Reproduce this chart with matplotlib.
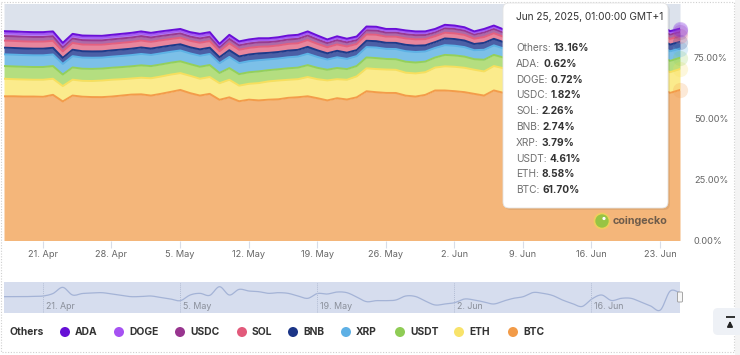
import matplotlib
matplotlib.use("Agg")
import matplotlib.pyplot as plt
import matplotlib.dates as mdates
import matplotlib.transforms as mtransforms
from matplotlib.patches import FancyBboxPatch, Circle, Rectangle
import numpy as np
import pandas as pd

plt.rcParams['font.family'] = ['Inter', 'DejaVu Sans']

# daily snapshots, 01:00 GMT+1
dates = pd.date_range('2025-04-17 01:00', periods=70, freq='D')

btc = [59.1, 59.1, 59.0, 59.0, 58.9, 59.7, 57.0, 59.4, 59.0, 58.9,
       58.7, 59.0, 59.4, 59.8, 59.9, 59.4, 60.1, 60.9, 61.7, 60.4,
       59.4, 60.1, 57.7, 58.7, 57.1, 57.7, 57.4, 57.7, 57.9, 58.5,
       58.7, 59.1, 58.3, 57.4, 58.3, 57.8, 58.7, 61.2, 60.8, 60.5,
       60.5, 59.4, 59.0, 59.7, 61.5, 61.5, 61.2, 60.8, 60.1, 59.4,
       61.5, 60.5, 60.8, 60.5, 60.0, 60.3, 60.8, 61.2, 61.4, 61.6,
       61.0, 60.7, 61.2, 61.3, 61.4, 61.7, 62.0, 62.3, 60.5, 61.70]
eth = [7.2, 7.0, 7.0, 6.9, 7.0, 6.6, 6.3, 6.5, 6.5, 6.6,
       6.8, 6.9, 6.7, 6.6, 6.8, 7.1, 7.1, 7.1, 6.9, 7.1,
       6.9, 6.9, 6.8, 7.2, 6.4, 6.5, 7.1, 7.5, 7.7, 7.4,
       7.4, 7.9, 7.8, 8.2, 7.8, 8.1, 8.6, 9.4, 9.5, 9.6,
       9.5, 9.4, 9.5, 9.3, 9.4, 9.9, 10.0, 10.0, 9.9, 9.9,
       10.0, 10.1, 10.2, 10.4, 10.5, 10.3, 10.0, 9.8, 9.6, 9.5,
       9.4, 9.5, 9.3, 9.2, 9.0, 8.8, 8.6, 8.4, 8.5, 8.58]
usdt = [5.21, 5.23, 5.21, 5.21, 5.21, 5.18, 4.73, 5.02, 4.97, 4.97,
        4.89, 4.91, 4.97, 4.99, 5.07, 4.97, 4.94, 4.86, 4.83, 4.78,
        4.91, 4.91, 4.19, 4.78, 4.71, 4.73, 4.78, 4.60, 4.60, 4.71,
        4.73, 4.86, 4.65, 4.37, 4.58, 4.37, 4.24, 4.45, 4.50, 4.32,
        4.34, 4.50, 4.47, 4.34, 4.11, 4.68, 4.65, 4.57, 4.32, 4.79,
        4.57, 4.37, 4.35, 4.32, 4.24, 4.24, 4.29, 4.40, 4.51, 4.59,
        4.51, 4.40, 4.51, 4.46, 4.48, 4.59, 4.70, 4.76, 4.62, 4.61]
xrp = [4.80, 4.82, 4.80, 4.80, 4.80, 4.77, 4.35, 4.62, 4.58, 4.58,
       4.50, 4.53, 4.58, 4.60, 4.67, 4.58, 4.55, 4.48, 4.45, 4.40,
       4.53, 4.53, 4.03, 4.60, 4.53, 4.55, 4.60, 4.43, 4.43, 4.53,
       4.55, 4.68, 4.48, 4.20, 4.40, 4.20, 4.08, 4.28, 4.33, 4.15,
       4.18, 4.33, 4.30, 4.18, 3.95, 4.00, 3.97, 3.90, 3.69, 4.09,
       3.90, 3.74, 3.71, 3.69, 3.62, 3.62, 3.67, 3.76, 3.85, 3.92,
       3.85, 3.76, 3.85, 3.81, 3.83, 3.92, 4.02, 4.07, 3.95, 3.79]
bnb = [2.73, 2.74, 2.73, 2.73, 2.73, 2.72, 2.48, 2.63, 2.60, 2.60,
       2.56, 2.58, 2.60, 2.62, 2.66, 2.60, 2.59, 2.55, 2.53, 2.51,
       2.58, 2.58, 2.42, 2.76, 2.72, 2.73, 2.76, 2.66, 2.66, 2.72,
       2.73, 2.81, 2.69, 2.52, 2.64, 2.52, 2.45, 2.57, 2.60, 2.49,
       2.51, 2.60, 2.58, 2.51, 2.37, 2.75, 2.74, 2.69, 2.54, 2.82,
       2.69, 2.58, 2.56, 2.54, 2.49, 2.49, 2.53, 2.59, 2.66, 2.71,
       2.66, 2.59, 2.66, 2.62, 2.64, 2.71, 2.77, 2.80, 2.72, 2.74]
sol = [2.89, 2.90, 2.89, 2.89, 2.89, 2.87, 2.62, 2.78, 2.75, 2.75,
       2.71, 2.72, 2.75, 2.77, 2.81, 2.75, 2.74, 2.69, 2.68, 2.65,
       2.72, 2.72, 2.45, 2.80, 2.74, 2.70, 2.72, 2.62, 2.68, 2.75,
       2.70, 2.78, 2.66, 2.50, 2.61, 2.55, 2.47, 2.60, 2.63, 2.52,
       2.55, 2.62, 2.60, 2.54, 2.40, 2.35, 2.33, 2.29, 2.17, 2.40,
       2.29, 2.19, 2.18, 2.17, 2.13, 2.13, 2.15, 2.21, 2.26, 2.30,
       2.26, 2.21, 2.26, 2.24, 2.25, 2.30, 2.36, 2.39, 2.32, 2.26]
usdc = [1.89, 1.90, 1.89, 1.89, 1.89, 1.88, 1.72, 1.82, 1.80, 1.80,
        1.78, 1.78, 1.80, 1.81, 1.84, 1.80, 1.79, 1.77, 1.76, 1.74,
        1.78, 1.78, 1.61, 1.84, 1.81, 1.82, 1.84, 1.77, 1.77, 1.81,
        1.82, 1.87, 1.79, 1.68, 1.76, 1.68, 1.63, 1.71, 1.73, 1.66,
        1.67, 1.73, 1.72, 1.67, 1.58, 1.84, 1.83, 1.79, 1.70, 1.88,
        1.79, 1.72, 1.71, 1.70, 1.66, 1.66, 1.68, 1.73, 1.77, 1.80,
        1.77, 1.73, 1.77, 1.75, 1.76, 1.80, 1.85, 1.87, 1.81, 1.82]
doge = [1.09, 1.10, 1.09, 1.09, 1.09, 1.09, 0.99, 1.05, 1.04, 1.04,
        1.02, 1.03, 1.04, 1.05, 1.06, 1.04, 1.04, 1.02, 1.01, 1.00,
        1.03, 1.03, 0.81, 0.92, 0.91, 0.91, 0.92, 0.89, 0.89, 0.91,
        0.91, 0.94, 0.90, 0.84, 0.88, 0.84, 0.82, 0.86, 0.87, 0.83,
        0.84, 0.87, 0.86, 0.84, 0.79, 0.75, 0.74, 0.73, 0.69, 0.77,
        0.73, 0.70, 0.70, 0.69, 0.68, 0.68, 0.69, 0.70, 0.72, 0.73,
        0.72, 0.70, 0.72, 0.71, 0.72, 0.73, 0.75, 0.76, 0.74, 0.72]
ada = [0.90, 0.90, 0.90, 0.90, 0.90, 0.89, 0.81, 0.86, 0.86, 0.86,
       0.84, 0.85, 0.86, 0.86, 0.87, 0.86, 0.85, 0.84, 0.83, 0.82,
       0.85, 0.85, 0.64, 0.74, 0.72, 0.73, 0.74, 0.71, 0.71, 0.72,
       0.73, 0.75, 0.72, 0.67, 0.70, 0.67, 0.65, 0.68, 0.69, 0.66,
       0.67, 0.69, 0.69, 0.67, 0.63, 0.65, 0.64, 0.63, 0.60, 0.66,
       0.63, 0.60, 0.60, 0.60, 0.59, 0.59, 0.59, 0.61, 0.62, 0.63,
       0.62, 0.61, 0.62, 0.62, 0.62, 0.63, 0.65, 0.66, 0.64, 0.62]
others = [14.2, 14.3, 14.5, 14.6, 14.6, 14.3, 19.0, 15.3, 16.0, 16.1,
          16.1, 15.7, 15.3, 14.9, 14.3, 14.9, 14.3, 13.8, 13.3, 14.6,
          15.3, 14.6, 19.4, 15.7, 18.4, 17.6, 17.1, 17.1, 16.7, 16.0,
          15.7, 14.3, 16.0, 17.6, 16.3, 17.3, 16.4, 12.3, 12.4, 13.3,
          13.3, 13.9, 14.3, 14.3, 13.3, 11.6, 11.9, 12.6, 14.3, 13.3,
          11.9, 13.5, 13.2, 13.4, 14.1, 14.0, 13.6, 13.0, 12.6, 12.2,
          13.2, 13.8, 13.1, 13.3, 13.3, 12.8, 12.3, 12.0, 14.2, 13.16]

# navigator series (Others market cap, $bn)
nav_others = [480, 480, 480, 482, 484, 499, 536, 490, 499, 502,
              504, 496, 487, 480, 481, 484, 475, 466, 456, 490,
              500, 488, 540, 490, 524, 514, 510, 500, 504, 500,
              484, 470, 499, 496, 508, 504, 478, 450, 456, 456,
              460, 484, 481, 454, 430, 436, 444, 466, 460, 448,
              436, 454, 470, 480, 505, 500, 487, 460, 439, 421,
              466, 490, 457, 470, 470, 448, 424, 400, 514, 502]

names = ['BTC', 'ETH', 'USDT', 'XRP', 'BNB', 'SOL', 'USDC', 'DOGE', 'ADA', 'Others']
series = [btc, eth, usdt, xrp, bnb, sol, usdc, doge, ada, others]
line_colors = ['#f39c4a', '#f7df5e', '#94d05a', '#5cb3e6', '#1d3a8a',
               '#e4607f', '#983a90', '#a55cf2', '#6a0fd8', '#dce2ec']
fill_colors = ['#f4b67a', '#fbeb8c', '#b4de80', '#7cc0e8', '#4b5fa6',
               '#e8869d', '#ad6aa8', '#ba8af2', '#8a48e2', '#dce2ec']
legend_colors = ['#f29b48', '#f8e36a', '#8fcc55', '#5eb0e5', '#1b3587',
                 '#e25a7b', '#98358f', '#a652f2', '#6610d6', '#dce2ec']

raw = np.array(series, dtype=float)
shares = raw / raw.sum(axis=0) * 100   # percent stacking
tops = np.cumsum(shares, axis=0)
bottoms = tops - shares


def spline(x, y, n=10):
    # catmull-rom, only for drawing the navigator line smooth
    x = np.asarray(x, float)
    y = np.asarray(y, float)
    px = np.concatenate([[x[0]], x, [x[-1]]])
    py = np.concatenate([[y[0]], y, [y[-1]]])
    t = np.linspace(0, 1, n, endpoint=False)[:, None]
    outx, outy = [], []
    for p in (px, py):
        p0, p1, p2, p3 = p[:-3], p[1:-2], p[2:-1], p[3:]
        seg = 0.5 * (2 * p1 + (-p0 + p2) * t + (2 * p0 - 5 * p1 + 4 * p2 - p3) * t ** 2
                     + (-p0 + 3 * p1 - 3 * p2 + p3) * t ** 3)
        (outx if p is px else outy).append(np.concatenate([seg.T.ravel(), [p[-2]]]))
    return outx[0], outy[0]


W, H = 740, 355
fig = plt.figure(figsize=(W / 100, H / 100), dpi=100)

# main stacked area
ax = fig.add_axes([4 / W, (H - 240.5) / H, 676 / W, 236.5 / H])
for k in range(len(names)):
    ax.fill_between(dates, bottoms[k], tops[k], color=fill_colors[k], lw=0, zorder=k + 1)
for k in range(len(names) - 1):
    ax.plot(dates, tops[k], color=line_colors[k], lw=1.4, zorder=20)
# hover halos at the last point
for k in range(len(names) - 1):
    ax.scatter(dates[-1], tops[k][-1], s=120, color=line_colors[k], alpha=0.22,
               lw=0, clip_on=False, zorder=30)

ax.set_xlim(dates[0], dates[-1])
ax.set_ylim(0, 236.5 / 2.44)
ax.yaxis.tick_right()
ax.set_yticks([0, 25, 50, 75])
ax.yaxis.set_major_formatter(lambda v, p: f'{v:.2f}%')
ax.tick_params(axis='y', length=0, pad=10, labelsize=6.6, labelcolor='#666666')
ax.xaxis.set_major_locator(mdates.WeekdayLocator(byweekday=mdates.MO))
ax.xaxis.set_major_formatter(mdates.DateFormatter('%-d. %b'))
ax.tick_params(axis='x', length=5, width=0.8, color='#d8dde8', pad=2,
               labelsize=6.6, labelcolor='#666666')
for s in ax.spines.values():
    s.set_visible(False)

# navigator
axn = fig.add_axes([4 / W, (H - 313.3) / H, 676 / W, 31.6 / H])
axn.set_facecolor('#d6ddee')
xn, yn = spline(mdates.date2num(dates), nav_others)
axn.plot(xn, yn, color='#a4b3d6', lw=0.9)
axn.set_xlim(dates[0], dates[-1])
axn.set_ylim(380, 570)
axn.set_xticks([])
axn.set_yticks([])
for s in axn.spines.values():
    s.set_visible(False)
nav_ticks = [d for d in ax.get_xticks()][::2]
lab_tr = mtransforms.offset_copy(axn.get_xaxis_transform(), fig=fig, x=3, y=0, units='dots')
for t in nav_ticks:
    axn.axvline(t, color='#b3bdd4', lw=0.7, ls=(0, (1, 1)))
    axn.text(t, 0.21, mdates.num2date(t).strftime('%-d. %b'), transform=lab_tr,
             fontsize=6.4, color='#8a8f9a', va='center', ha='left')

# overlay in pixel coordinates
ov = fig.add_axes([0, 0, 1, 1], zorder=50)
ov.set_xlim(0, W)
ov.set_ylim(H, 0)
ov.axis('off')
ov.patch.set_alpha(0)

# page frame
ov.add_patch(Rectangle((735, 0), 5, H, fc='#f4f4f4', ec='none'))
ov.add_patch(Rectangle((1, 2), 733, 350, fc='none', ec='#cfcfcf', lw=0.8, ls=(0, (1, 1.5))))

# navigator handle
ov.add_patch(FancyBboxPatch((677.5, 292), 5, 10, boxstyle='round,pad=0,rounding_size=1',
                            fc='#f7f7f7', ec='#999999', lw=0.6))

# tooltip
ov.add_patch(FancyBboxPatch((505, 5), 165, 205, boxstyle='round,pad=0,rounding_size=6',
                            fc='#000000', ec='none', alpha=0.07))
ov.add_patch(FancyBboxPatch((503, 3), 165, 205, boxstyle='round,pad=0,rounding_size=6',
                            fc='white', ec='#e3e3e3', lw=0.6))
ov.text(516, 17, f"{dates[-1]:%b %d, %Y, %H:%M:%S} GMT+1", fontsize=7.3,
        color='#333333', va='center')
renderer = fig.canvas.get_renderer()
for j, k in enumerate(range(len(names) - 1, -1, -1)):
    yy = 48 + j * 15.8
    t1 = ov.text(516, yy, f'{names[k]}:', fontsize=7.3, color='#707070', va='center')
    wpx = t1.get_window_extent(renderer).width
    ov.text(516 + wpx + 3, yy, f'{series[k][-1]:.2f}%', fontsize=7.3,
            color='#333333', weight='bold', va='center')

# coingecko watermark
ov.add_patch(Circle((602, 221), 7.5, fc='#8dc63f', ec='#f2d15b', lw=1.2, alpha=0.9))
ov.add_patch(Circle((604, 218.5), 1.6, fc='white', ec='none'))
ov.text(613, 221, 'coingecko', fontsize=7.8, weight='bold', color='#4d4640',
        alpha=0.8, va='center')

# legend
leg_x = [None, 65, 119, 180, 242, 293, 346, 400, 459, 513]
for j, k in enumerate(range(len(names) - 1, -1, -1)):
    cx = leg_x[j]
    if cx is None:
        ov.text(10, 332, names[k], fontsize=7.4, weight='bold', color='#333333', va='center')
        continue
    ov.add_patch(Circle((cx, 332), 5, fc=legend_colors[k], ec='none'))
    ov.text(cx + 10, 332, names[k], fontsize=7.4, weight='bold', color='#333333', va='center')

# back-to-top button
ov.add_patch(FancyBboxPatch((713, 308), 30, 27, boxstyle='round,pad=0,rounding_size=5',
                            fc='#eef1f6', ec='none'))
ov.plot([725.5, 734.5], [316.5, 316.5], color='#222222', lw=1.3, solid_capstyle='butt')
ov.annotate('', xy=(730, 318), xytext=(730, 327.5),
            arrowprops=dict(arrowstyle='-|>', color='#222222', lw=1.2, mutation_scale=8))

fig.savefig('out.png', dpi=100)
